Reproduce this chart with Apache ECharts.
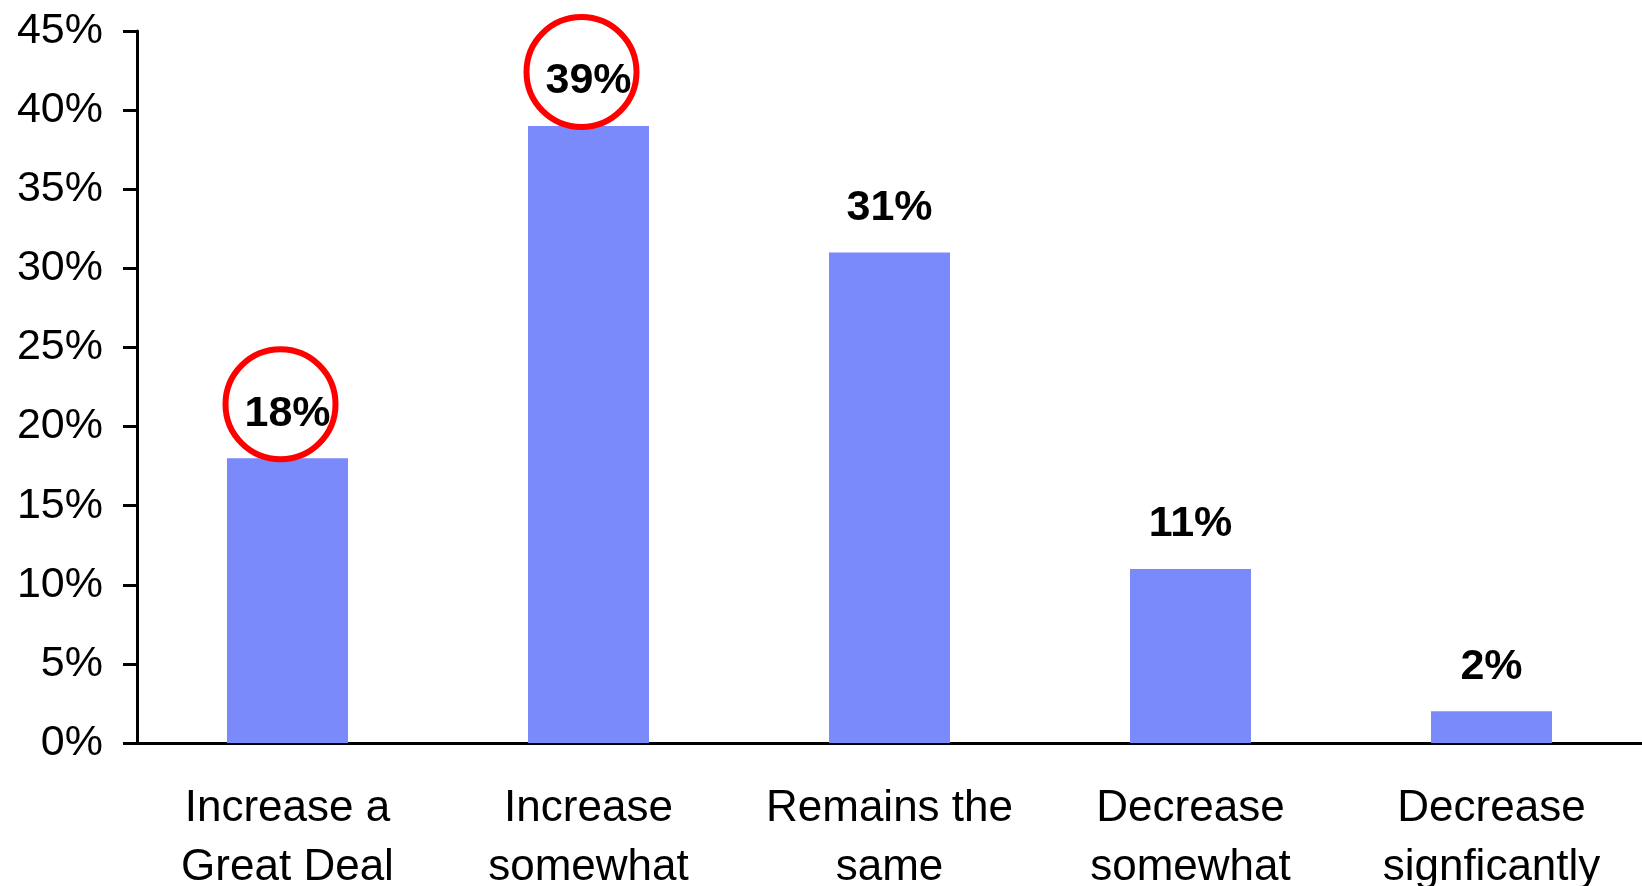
<!DOCTYPE html>
<html>
<head>
<meta charset="utf-8">
<title>Expected change</title>
<script src="https://cdn.jsdelivr.net/npm/echarts@6/dist/echarts.min.js"></script>
<style>
  html, body { margin: 0; padding: 0; background: #ffffff; }
  #chart { width: 1642px; height: 886px; }
</style>
</head>
<body>
<div id="chart"></div>
<script>
// Response categories (x axis)
const categories = [
  'Increase a\nGreat Deal',
  'Increase\nsomewhat',
  'Remains the\nsame',
  'Decrease\nsomewhat',
  'Decrease\nsignficantly'
];
// Share of respondents, percent
const shares = [18, 39, 31, 11, 2];
// Indices of the answers that are circled for emphasis
const highlighted = [0, 1];
// Y axis range, percent
const yMin = 0, yMax = 45, yStep = 5;

const FONT = '"Liberation Sans", Arial, Helvetica, sans-serif';

const chart = echarts.init(document.getElementById('chart'), null, { renderer: 'canvas' });

chart.setOption({
  backgroundColor: '#ffffff',
  animation: false,
  grid: {
    left: 137, right: 0, top: 31, bottom: 143,
    containLabel: false,
    outerBoundsMode: 'none'
  },
  xAxis: {
    type: 'category',
    data: categories,
    axisLine: { show: true, lineStyle: { color: '#000000', width: 3 } },
    axisTick: { show: false },
    axisLabel: {
      color: '#000000',
      fontFamily: FONT,
      fontSize: 44,
      lineHeight: 59,
      margin: 36,
      interval: 0
    }
  },
  yAxis: {
    type: 'value',
    min: yMin,
    max: yMax,
    interval: yStep,
    splitLine: { show: false },
    axisLine: { show: true, lineStyle: { color: '#000000', width: 3 } },
    axisTick: { show: true, inside: false, length: 14, lineStyle: { color: '#000000', width: 3 } },
    axisLabel: {
      color: '#000000',
      fontFamily: FONT,
      fontSize: 43,
      margin: 34,
      formatter: '{value}%'
    }
  },
  series: [{
    type: 'bar',
    data: shares,
    barWidth: 121,
    itemStyle: { color: '#7a8afb' },
    label: {
      show: true,
      position: 'top',
      distance: 23,
      color: '#000000',
      fontFamily: FONT,
      fontSize: 43,
      fontWeight: 'bold',
      formatter: p => p.value + '%'
    },
    markPoint: {
      symbol: 'circle',
      symbolSize: 110,
      silent: true,
      label: { show: false },
      itemStyle: { color: 'rgba(0,0,0,0)', borderColor: '#ff0000', borderWidth: 6 },
      data: highlighted.map(i => ({
        coord: [i, shares[i]],
        symbolOffset: [-7, -54]
      }))
    }
  }]
});
</script>
</body>
</html>
